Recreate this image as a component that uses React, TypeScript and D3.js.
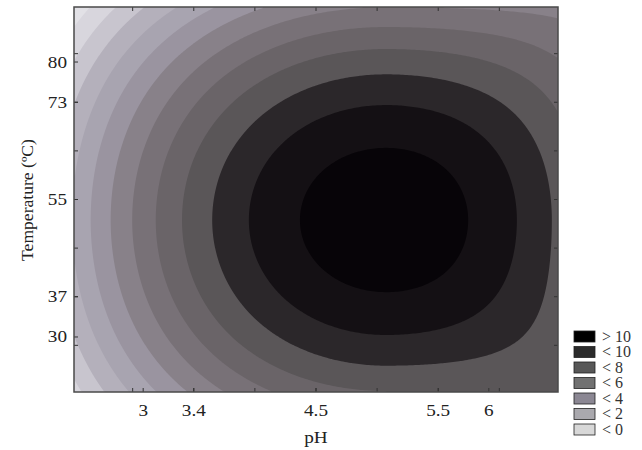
import React from 'react';
import * as d3 from 'd3';

// pH axis: printed labels and where they sit in coded (design) units
const phLabels = ['3', '3.4', '4.5', '5.5', '6'];
const phCoded = [-1.414, -1, 0, 1, 1.414];
// temperature axis, same idea
const tempLabels = ['80', '73', '55', '37', '30'];
const tempCoded = [1.414, 1, 0, -1, -1.414];
// unlabelled tick marks every half coded unit
const gridTicks = [-1.5, -1, -0.5, 0, 0.5, 1, 1.5];

// fitted response surface, coded units:
// peak value, pH of peak, temp of peak, pH curvature (low side, high side),
// temp curvature, and how much that temp curvature relaxes toward
// low pH, toward high pH below the peak, toward high pH above the peak
const surface = [11.3, 0.573, -0.211, 2.62, 2.88, 2.36, 0.12, 0.94, 0.535];

// contour levels and the grey used for the band above each one
const levels = [-14, -12, -10, -8, -6, -4, -2, 0, 2, 4, 6, 8, 10];
const bandColors = [
  '#e2e1e6', '#d8d6dd', '#c8c5ce', '#b4b0bb', '#a8a4b0', '#9a94a0',
  '#888189', '#787177', '#6a6468', '#5a5658', '#2b272a', '#141014', '#070408',
];
const baseColor = '#e8e7eb';

const legendLabels = ['> 10', '< 10', '< 8', '< 6', '< 4', '< 2', '< 0'];
const legendColors = ['#000000', '#2b2b2b', '#575757', '#717171', '#8b8793', '#aaa9ae', '#d8d8d8'];

const W = 642;
const H = 450;
const plot = { left: 74, right: 558, top: 7, bottom: 392 };
const font = "'Times New Roman', 'Liberation Serif', serif";

const respond = (x: number, y: number) => {
  const [peak, x0, y0, axLow, axHigh, by, flatLeft, flatLow, flatHigh] = surface;
  const dx = x - x0;
  const dy = y - y0;
  let b = by;
  if (dx > 0) b -= (dy < 0 ? flatLow : flatHigh) * dx * dx;
  else b -= flatLeft * dx * dx;
  const a = dx > 0 ? axHigh : axLow;
  return peak - a * dx * dx - b * dy * dy;
};

const App = () => {
  const x = d3.scaleLinear().domain([-1.98, 1.98]).range([plot.left, plot.right]);
  const y = d3.scaleLinear().domain([-1.98, 1.98]).range([plot.bottom, plot.top]);

  const nx = 242;
  const ny = 193;
  const cw = (plot.right - plot.left) / nx;
  const ch = (plot.bottom - plot.top) / ny;
  const values: number[] = new Array(nx * ny);
  for (let j = 0; j < ny; j++) {
    for (let i = 0; i < nx; i++) {
      const cx = x.invert(plot.left + (i + 0.5) * cw);
      const cy = y.invert(plot.top + (j + 0.5) * ch);
      values[j * nx + i] = respond(cx, cy);
    }
  }
  const bands = d3.contours().size([nx, ny]).thresholds(levels)(values);
  const path = d3.geoPath();

  const tick = 4;

  return (
    <svg width={W} height={H} style={{ position: 'absolute', left: 0, top: 0, background: '#fff' }}>
      <rect x={plot.left} y={plot.top} width={plot.right - plot.left} height={plot.bottom - plot.top} fill={baseColor} />
      <g transform={`translate(${plot.left},${plot.top}) scale(${cw},${ch})`}>
        {bands.map((b, i) => (
          <path key={i} d={path(b as any) || ''} fill={bandColors[i]} />
        ))}
      </g>

      {/* tick marks, all pointing inwards */}
      <g stroke="#333" strokeWidth={1}>
        {gridTicks.map((t) => (
          <g key={'g' + t}>
            <line x1={x(t)} x2={x(t)} y1={plot.bottom} y2={plot.bottom - tick} />
            <line x1={x(t)} x2={x(t)} y1={plot.top} y2={plot.top + tick} />
            <line x1={plot.left} x2={plot.left + tick} y1={y(t)} y2={y(t)} />
            <line x1={plot.right} x2={plot.right - tick} y1={y(t)} y2={y(t)} />
          </g>
        ))}
        {phCoded.map((t) => (
          <line key={'px' + t} x1={x(t)} x2={x(t)} y1={plot.bottom} y2={plot.bottom - tick} />
        ))}
        {tempCoded.map((t) => (
          <line key={'ty' + t} x1={plot.left} x2={plot.left + tick} y1={y(t)} y2={y(t)} />
        ))}
      </g>

      <rect x={plot.left} y={plot.top} width={plot.right - plot.left} height={plot.bottom - plot.top}
        fill="none" stroke="#4a4a4a" strokeWidth={1.5} />

      <g fontFamily={font} fontSize={16} fill="#222">
        {phLabels.map((l, i) => (
          <text key={l} textAnchor="middle" transform={`translate(${x(phCoded[i])},416) scale(1.2,1)`}>{l}</text>
        ))}
        {tempLabels.map((l, i) => (
          <text key={l} textAnchor="end" transform={`translate(67,${y(tempCoded[i]) + 5.5}) scale(1.2,1)`}>{l}</text>
        ))}
        <text textAnchor="middle" transform="translate(316,443) scale(1.2,1)">pH</text>
        <text textAnchor="middle" transform="translate(33,200) rotate(-90) scale(1.1,1)">Temperature (ºC)</text>
      </g>

      <g fontFamily={font} fontSize={16} fill="#333">
        {legendLabels.map((l, i) => (
          <g key={l} transform={`translate(574,${331 + i * 15.5})`}>
            <rect width={21} height={11} fill={legendColors[i]} stroke="#222" strokeWidth={0.8} />
            <text x={28} y={10.5}>{l}</text>
          </g>
        ))}
      </g>
    </svg>
  );
};

export default App;
